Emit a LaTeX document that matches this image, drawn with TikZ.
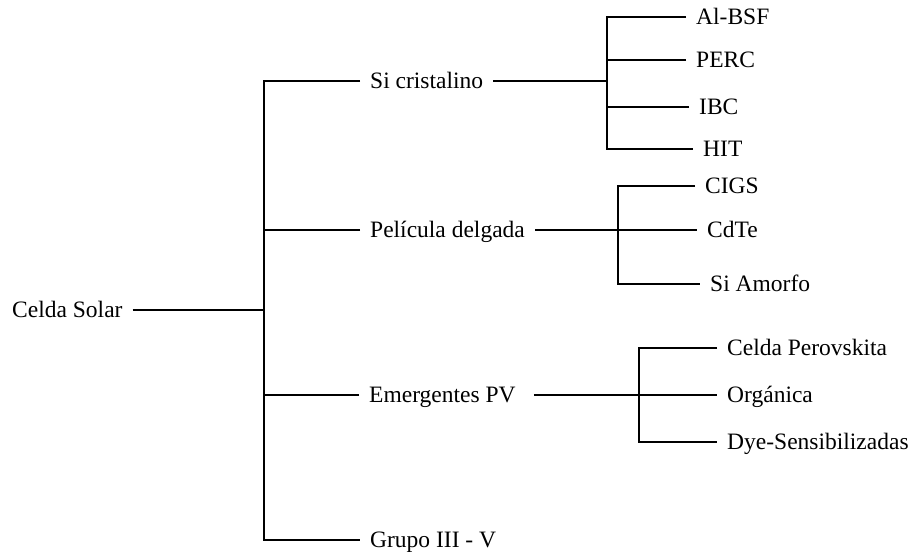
\documentclass[tikz,border=0pt]{standalone}
\usepackage{fontspec}
\setmainfont{Liberation Serif}
\begin{document}
\begin{tikzpicture}[x=1pt,y=-1pt,
  lbl/.style={anchor=west, inner xsep=10pt, inner ysep=0pt, text height=15pt, text depth=0pt,
    font=\fontsize{23.5}{28}\selectfont},
  conn/.style={draw=black, line width=2.3pt}]
\useasboundingbox (0,0) rectangle (912,553);
% level 0
\node[lbl] (cs) at (2,310) {Celda Solar};
% level 1
\node[lbl] (sic) at (360,81) {Si cristalino};
\node[lbl] (pel) at (360,230) {Película delgada};
\node[lbl] (emg) at (359,395) {Emergentes PV};
\node[lbl] (gru) at (360,540) {Grupo III - V};
% level 2
\node[lbl] (alb) at (686,17) {Al-BSF};
\node[lbl] (perc) at (686,60) {PERC};
\node[lbl] (ibc) at (689,107) {IBC};
\node[lbl] (hit) at (693,149) {HIT};
\node[lbl] (cigs) at (695,186) {CIGS};
\node[lbl] (cdte) at (697,230) {CdTe};
\node[lbl] (sia) at (700,284) {Si Amorfo};
\node[lbl] (per) at (717,348) {Celda Perovskita};
\node[lbl] (org) at (717,395) {Orgánica};
\node[lbl] (dye) at (717,442) {Dye-Sensibilizadas};
% junction columns
\coordinate (mv) at (264,540);
\coordinate (sv) at (607,0);
\coordinate (pv) at (618,0);
\coordinate (ev) at (639,0);
% main bracket
\draw[conn] (sic.west) -| (mv) -- (gru.west);
\draw[conn] (pel.west) -- (pel.west -| mv);
\draw[conn] (emg.west) -- (emg.west -| mv);
\draw[conn] (cs.east) -- (cs.east -| mv);
% Si cristalino bracket
\draw[conn] (alb.west) -- (alb.west -| sv) |- (hit.west);
\draw[conn] (perc.west) -- (perc.west -| sv);
\draw[conn] (ibc.west) -- (ibc.west -| sv);
\draw[conn] (sic.east) -- (sic.east -| sv);
% Pelicula bracket
\draw[conn] (cigs.west) -- (cigs.west -| pv) |- (sia.west);
\draw[conn] (pel.east) -- (cdte.west);
% Emergentes bracket
\draw[conn] (per.west) -- (per.west -| ev) |- (dye.west);
\draw[conn] ([xshift=8pt]emg.east) -- (org.west);
\end{tikzpicture}
\end{document}
